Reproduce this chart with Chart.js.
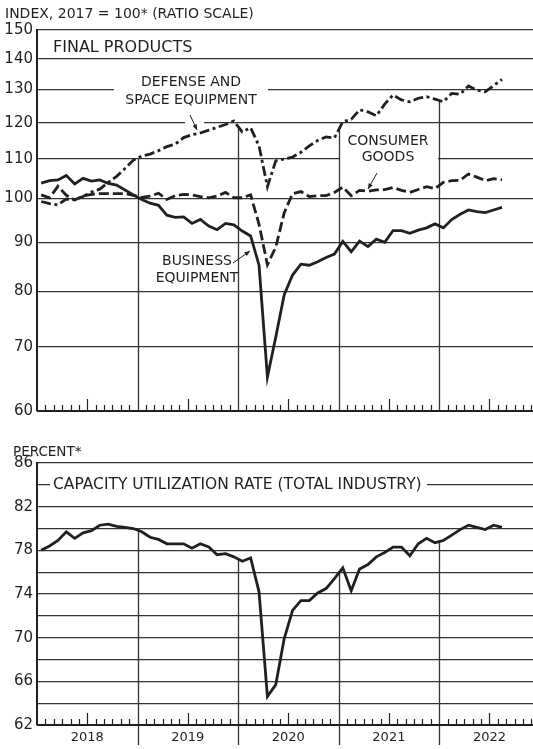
<!DOCTYPE html>
<html>
<head>
<meta charset="utf-8">
<script src="https://cdn.jsdelivr.net/npm/chart.js@4.4.0/dist/chart.umd.min.js"></script>
<style>
html, body { margin: 0; padding: 0; background: #fff; }
#wrap { position: relative; width: 533px; height: 749px; }
.box { position: absolute; left: 0; width: 533px; }
</style>
</head>
<body>
<div id="wrap">
  <div class="box" style="top:0;height:420px"><canvas id="topChart" width="533" height="420"></canvas></div>
  <div class="box" style="top:420px;height:329px"><canvas id="bottomChart" width="533" height="329"></canvas></div>
</div>
<script>
// years on the x axis, monthly data Jan 2018 .. Aug 2022
const years = ['2018', '2019', '2020', '2021', '2022'];
const monthNames = ['Jan','Feb','Mar','Apr','May','Jun','Jul','Aug','Sep','Oct','Nov','Dec'];

// final products, index 2017 = 100
const businessEquipment = [
  103.8, 104.4, 104.6, 105.7, 103.6, 105.0, 104.3, 104.6, 103.7, 103.3, 102.1, 100.9,
  99.8, 98.9, 98.4, 96.1, 95.6, 95.7, 94.2, 95.1, 93.6, 92.8, 94.2, 93.9,
  92.5, 91.4, 85.2, 65.1, 71.7, 79.3, 83.2, 85.4, 85.2, 85.9, 86.8, 87.5,
  90.2, 88.0, 90.3, 89.1, 90.7, 90.0, 92.6, 92.6, 92.0, 92.7, 93.2, 94.1,
  93.2, 95.1, 96.3, 97.3, 96.9, 96.7, 97.3, 97.9
];
const consumerGoods = [
  100.9, 100.2, 103.0, 100.8, 99.7, 100.6, 101.0, 101.2, 101.2, 101.2, 101.2, 100.8,
  100.3, 100.6, 101.3, 99.8, 100.7, 101.0, 100.9, 100.5, 100.2, 100.6, 101.5, 100.2,
  100.2, 100.9, 94.0, 85.3, 89.0, 96.6, 101.2, 101.7, 100.5, 100.7, 100.7, 101.5,
  102.8, 100.7, 102.0, 101.8, 102.1, 102.2, 102.7, 102.0, 101.5, 102.2, 102.9, 102.4,
  104.0, 104.4, 104.5, 106.1, 105.3, 104.4, 104.9, 104.6
];
const defenseSpace = [
  99.3, 98.8, 98.5, 99.9, 99.7, 100.5, 101.6, 102.3, 104.0, 105.5, 107.5, 109.7,
  110.8, 111.3, 112.2, 113.3, 114.0, 115.8, 116.6, 117.1, 117.9, 118.7, 119.5, 120.5,
  117.4, 118.6, 113.5, 102.9, 109.5, 110.0, 110.5, 111.8, 113.5, 115.0, 116.0, 115.7,
  120.3, 121.0, 123.8, 123.2, 122.0, 125.5, 128.3, 126.8, 126.2, 127.3, 127.8, 127.0,
  126.2, 128.8, 128.5, 131.1, 129.8, 129.3, 131.2, 133.2
];

// capacity utilization rate, percent
const capacityUtil = [
  78.0, 78.4, 78.9, 79.7, 79.1, 79.6, 79.8, 80.3, 80.4, 80.2, 80.1, 80.0,
  79.7, 79.2, 79.0, 78.6, 78.6, 78.6, 78.2, 78.6, 78.3, 77.6, 77.7, 77.4,
  77.0, 77.3, 74.2, 64.6, 65.7, 69.9, 72.5, 73.4, 73.4, 74.1, 74.5, 75.4,
  76.4, 74.3, 76.3, 76.7, 77.4, 77.8, 78.3, 78.3, 77.5, 78.6, 79.1, 78.7,
  78.9, 79.4, 79.9, 80.3, 80.1, 79.9, 80.3, 80.1
];

const indexTicks = [60, 70, 80, 90, 100, 110, 120, 130, 140, 150];
const percentTicks = [62, 64, 66, 68, 70, 72, 74, 76, 78, 80, 82, 84, 86];
const percentLabels = [62, 66, 70, 74, 78, 82, 86];

const FONT = '"DejaVu Sans", sans-serif';
const INK = '#231f20';

const months = [];
years.forEach(yr => monthNames.forEach(m => months.push(m + ' ' + yr)));
const labels = months.slice(0, businessEquipment.length);

// points sit in the middle of each month
function toPoints(values) {
  return values.map((v, i) => ({ x: i + 0.5, y: v }));
}

function lineSet(label, values, dash) {
  return {
    label: label,
    data: toPoints(values),
    borderColor: INK,
    borderWidth: 2.8,
    borderDash: dash,
    pointRadius: 0,
    tension: 0,
    fill: false
  };
}

function arrow(ctx, x1, y1, x2, y2) {
  const ang = Math.atan2(y2 - y1, x2 - x1);
  ctx.beginPath();
  ctx.moveTo(x1, y1);
  ctx.lineTo(x2, y2);
  ctx.lineWidth = 1;
  ctx.strokeStyle = INK;
  ctx.stroke();
  ctx.beginPath();
  ctx.moveTo(x2, y2);
  ctx.lineTo(x2 - 6 * Math.cos(ang - 0.4), y2 - 6 * Math.sin(ang - 0.4));
  ctx.lineTo(x2 - 6 * Math.cos(ang + 0.4), y2 - 6 * Math.sin(ang + 0.4));
  ctx.closePath();
  ctx.fillStyle = INK;
  ctx.fill();
}

// year dividers drop from the highest series down to the axis, plus month ticks
function drawFrame(chart, below) {
  const { ctx, chartArea: a, scales: { x } } = chart;
  const metas = chart.data.datasets.map((d, i) => chart.getDatasetMeta(i).data);
  ctx.save();
  ctx.strokeStyle = '#333';
  ctx.lineWidth = 1.3;
  for (let k = 1; k < years.length; k++) {
    const m = k * 12;
    let top = a.bottom;
    metas.forEach(pts => {
      if (pts[m] && pts[m - 1]) top = Math.min(top, (pts[m].y + pts[m - 1].y) / 2);
    });
    const px = Math.round(x.getPixelForValue(m)) + 0.5;
    ctx.beginPath();
    ctx.moveTo(px, top);
    ctx.lineTo(px, a.bottom + below);
    ctx.stroke();
  }
  ctx.lineWidth = 1.2;
  ctx.strokeStyle = INK;
  for (let m = 1; m < 60; m++) {
    if (m % 12 === 0) continue;
    const px = Math.round(x.getPixelForValue(m)) + 0.5;
    const len = m % 12 === 6 ? 12 : 6;
    ctx.beginPath();
    ctx.moveTo(px, a.bottom);
    ctx.lineTo(px, a.bottom - len);
    ctx.stroke();
  }
  // bottom axis
  ctx.lineWidth = 2;
  ctx.beginPath();
  ctx.moveTo(a.left, a.bottom);
  ctx.lineTo(a.right, a.bottom);
  ctx.stroke();
  ctx.restore();
}

const topPlugin = {
  id: 'topDecor',
  beforeDatasetsDraw(chart) {
    const { ctx, scales: { y } } = chart;
    ctx.save();
    ctx.fillStyle = '#fff';
    const y130 = y.getPixelForValue(130);
    ctx.fillRect(114, y130 - 6, 154, 12);
    const y120 = y.getPixelForValue(120);
    ctx.fillRect(185, y120 - 4, 19, 8);
    const y110 = y.getPixelForValue(110);
    ctx.fillRect(339, y110 - 4, 99, 8);

    ctx.fillStyle = INK;
    ctx.textBaseline = 'middle';
    ctx.textAlign = 'left';
    ctx.font = '14px ' + FONT;
    ctx.fillText('INDEX, 2017 = 100* (RATIO SCALE)', 5, 14);
    ctx.font = '16px ' + FONT;
    ctx.fillText('FINAL PRODUCTS', 53, 48);
    ctx.textAlign = 'center';
    ctx.font = '14px ' + FONT;
    ctx.fillText('DEFENSE AND', 191, 82);
    ctx.fillText('SPACE EQUIPMENT', 191, 100);
    ctx.fillText('CONSUMER', 388, 141);
    ctx.fillText('GOODS', 388, 157);
    ctx.fillText('BUSINESS', 197, 261);
    ctx.fillText('EQUIPMENT', 197, 278);
    arrow(ctx, 190, 115, 197, 130);
    arrow(ctx, 377, 173, 368, 189);
    arrow(ctx, 233, 263, 250, 251);
    ctx.restore();
    drawFrame(chart, 0);
  }
};

const bottomPlugin = {
  id: 'bottomDecor',
  beforeDatasetsDraw(chart) {
    const { ctx, chartArea: a, scales: { x, y } } = chart;
    ctx.save();
    ctx.fillStyle = '#fff';
    const y84 = y.getPixelForValue(84);
    ctx.fillRect(50, y84 - 8, 377, 16);
    ctx.fillStyle = INK;
    ctx.textBaseline = 'middle';
    ctx.textAlign = 'left';
    ctx.font = '13.5px ' + FONT;
    ctx.fillText('PERCENT*', 13, 32);
    ctx.font = '15.5px ' + FONT;
    ctx.fillText('CAPACITY UTILIZATION RATE (TOTAL INDUSTRY)', 53, y84);
    ctx.textAlign = 'center';
    ctx.font = '13px ' + FONT;
    years.forEach((yr, k) => {
      ctx.fillText(yr, x.getPixelForValue(k * 12 + 6), a.bottom + 13);
    });
    ctx.restore();
    drawFrame(chart, 20);
  }
};

function baseOptions(yScale, pad) {
  return {
    responsive: false,
    animation: false,
    layout: { padding: pad },
    plugins: { legend: { display: false }, tooltip: { enabled: false } },
    scales: {
      x: { type: 'linear', min: 0, max: 59.2, display: false },
      y: yScale
    }
  };
}

// keep the plot area exactly where the layout padding puts it
function fitAxis(s) {
  s.width = 37;
  s.paddingTop = 0;
  s.paddingBottom = 0;
}

new Chart(document.getElementById('topChart'), {
  type: 'line',
  data: {
    labels: labels,
    datasets: [
      lineSet('Defense and space equipment', defenseSpace, [10, 3.5, 3, 3.5]),
      lineSet('Consumer goods', consumerGoods, [10, 4]),
      lineSet('Business equipment', businessEquipment, [])
    ]
  },
  options: baseOptions({
    type: 'logarithmic',
    min: 60,
    max: 150,
    afterBuildTicks: s => { s.ticks = indexTicks.map(v => ({ value: v })); },
    afterFit: fitAxis,
    grid: { color: '#333', lineWidth: 1.3, drawTicks: false },
    border: { color: INK, width: 2 },
    ticks: { color: INK, padding: 4, font: { family: FONT, size: 15 }, callback: v => String(v) }
  }, { top: 30, bottom: 9, left: 0, right: 0 }),
  plugins: [topPlugin]
});

new Chart(document.getElementById('bottomChart'), {
  type: 'line',
  data: {
    labels: labels,
    datasets: [lineSet('Capacity utilization rate (total industry)', capacityUtil, [])]
  },
  options: baseOptions({
    type: 'linear',
    min: 62,
    max: 86,
    afterBuildTicks: s => { s.ticks = percentTicks.map(v => ({ value: v })); },
    afterFit: fitAxis,
    grid: { color: '#333', lineWidth: 1.3, drawTicks: false },
    border: { color: INK, width: 2 },
    ticks: {
      color: INK, padding: 4, font: { family: FONT, size: 15 },
      callback: v => percentLabels.includes(v) ? String(v) : ''
    }
  }, { top: 43, bottom: 24, left: 0, right: 0 }),
  plugins: [bottomPlugin]
});
</script>
</body>
</html>
